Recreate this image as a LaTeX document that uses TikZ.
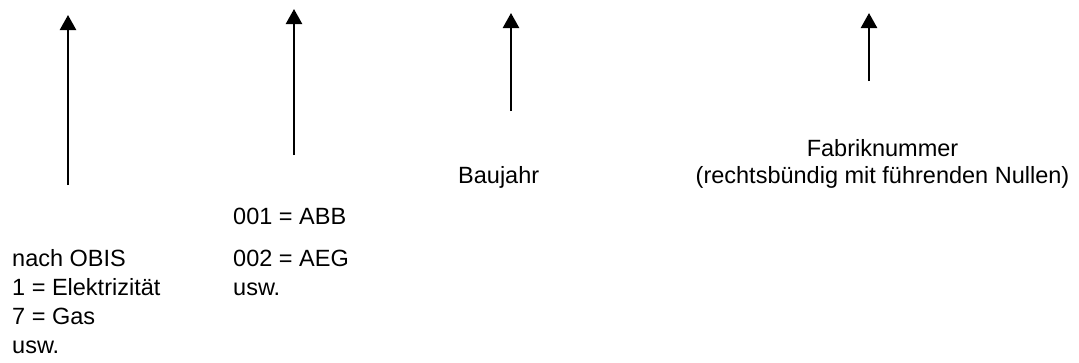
\documentclass[tikz,border=0pt]{standalone}
\usepackage{fontspec}
\setmainfont{Liberation Sans}
\usetikzlibrary{arrows.meta}
\begin{document}
\begin{tikzpicture}[x=1pt,y=-1pt,
  pointer/.style={line width=2.4pt,-{Triangle[length=15pt,width=16pt]}},
  lbl/.style={inner sep=0pt,align=left,font={\fontsize{23.5}{29}\selectfont}}]
\useasboundingbox (0,0) rectangle (1079,362);
% arrow ends
\coordinate (a1s) at (68,185);  \coordinate (a1e) at (68,15);
\coordinate (a2s) at (294,155); \coordinate (a2e) at (294,9);
\coordinate (a3s) at (511,111); \coordinate (a3e) at (511,13);
\coordinate (a4s) at (869,81);  \coordinate (a4e) at (869,13);
\draw[pointer] (a1s) -- (a1e);
\draw[pointer] (a2s) -- (a2e);
\draw[pointer] (a3s) -- (a3e);
\draw[pointer] (a4s) -- (a4e);
% labels
\node[lbl,anchor=north west] (obis) at (12,249)
  {nach OBIS\\1 = Elektrizität\\7 = Gas\\usw.};
\node[lbl,anchor=north west] (herst) at (233,208)
  {001 = ABB\\[13pt]002 = AEG\\usw.};
\node[lbl,anchor=base west] (baujahr) at (458,183) {Baujahr};
\node[lbl,align=center,anchor=north,font={\fontsize{23.5}{27.5}\selectfont}] (fabrik) at (882.5,139)
  {Fabriknummer\\(rechtsbündig mit führenden Nullen)};
\end{tikzpicture}
\end{document}
